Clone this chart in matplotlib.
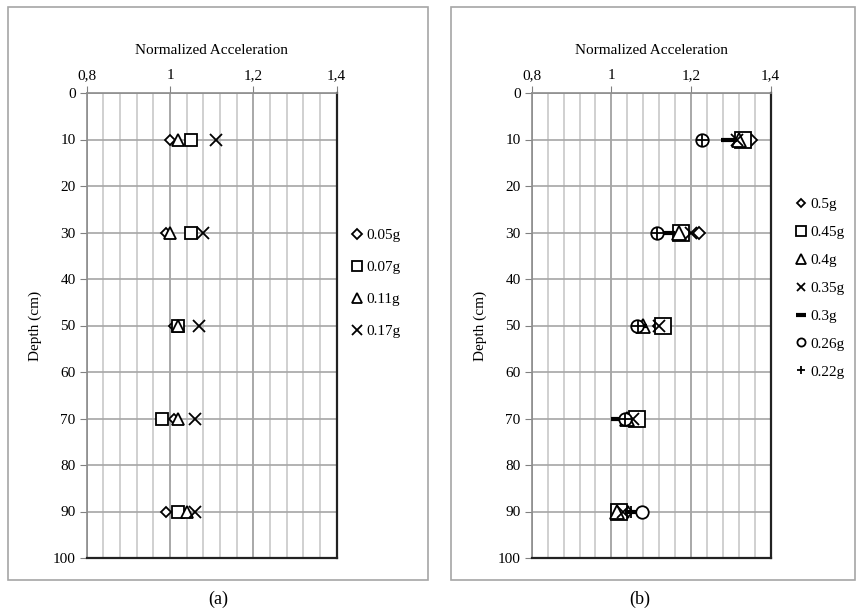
import matplotlib
matplotlib.use('Agg')
from matplotlib import pyplot as plt
from matplotlib.patches import Rectangle
from matplotlib.ticker import MultipleLocator

plt.rcParams['font.family'] = ['Liberation Serif', 'DejaVu Serif']

depth = [10, 30, 50, 70, 90]

# panel (a)
labels_a = ['0.05g', '0.07g', '0.11g', '0.17g']
acc_005 = [1.00, 0.99, 1.01, 1.01, 0.99]
acc_007 = [1.05, 1.05, 1.02, 0.98, 1.02]
acc_011 = [1.02, 1.00, 1.02, 1.02, 1.04]
acc_017 = [1.11, 1.08, 1.07, 1.06, 1.06]

# panel (b)
labels_b = ['0.5g', '0.45g', '0.4g', '0.35g', '0.3g', '0.26g', '0.22g']
acc_050 = [1.35, 1.22, 1.12, 1.06, 1.04]
acc_045 = [1.33, 1.175, 1.13, 1.065, 1.02]
acc_040 = [1.32, 1.17, 1.08, 1.04, 1.015]
acc_035 = [1.315, 1.20, 1.12, 1.055, 1.03]
acc_030 = [1.295, 1.14, 1.07, 1.02, 1.055]
acc_026 = [1.228, 1.115, 1.065, 1.033, 1.078]
acc_022 = [1.228, 1.115, 1.068, 1.035, 1.05]

x_ticks = [0.8, 1.0, 1.2, 1.4]
x_ticklabels = ['0,8', '1', '1,2', '1,4']
y_ticks = list(range(0, 101, 10))

W, H = 861, 613
fig = plt.figure(figsize=(W / 100, H / 100), dpi=100)

# panel frames
for x0, x1 in [(8, 428), (451, 855)]:
    fig.patches.append(Rectangle((x0 / W, (H - 580) / H), (x1 - x0) / W, 573 / H,
                                 transform=fig.transFigure, fill=False,
                                 edgecolor='#a6a6a6', linewidth=1.2))


def setup(ax):
    ax.set_xlim(0.8, 1.4)
    ax.set_ylim(100, 0)
    ax.xaxis.tick_top()
    ax.set_xticks(x_ticks)
    ax.set_xticklabels(x_ticklabels)
    ax.xaxis.set_minor_locator(MultipleLocator(0.04))
    ax.set_yticks(y_ticks)
    ax.tick_params(axis='both', which='major', labelsize=11, length=5,
                   color='#808080', direction='out', pad=3)
    ax.tick_params(axis='x', which='minor', length=0)
    ax.grid(which='minor', axis='x', color='#c8c8c8', linewidth=1.2)
    ax.grid(which='major', axis='x', color='#999999', linewidth=1.2)
    ax.grid(which='major', axis='y', color='#a6a6a6', linewidth=1.2)
    ax.set_axisbelow(True)
    for s in ['left', 'top']:
        ax.spines[s].set_color('#8c8c8c')
        ax.spines[s].set_linewidth(1.2)
    for s in ['right', 'bottom']:
        ax.spines[s].set_color('#222222')
        ax.spines[s].set_linewidth(1.6)
    ax.set_title('Normalized Acceleration', fontsize=11, pad=28)
    ax.set_ylabel('Depth (cm)', fontsize=11, labelpad=8)


kw = dict(linestyle='none', markerfacecolor='white', markeredgecolor='black',
          color='black', markeredgewidth=1.3)

# (a)
ax1 = fig.add_axes([86.7 / W, 55 / H, 250 / W, 465 / H])
setup(ax1)
h1 = []
h1 += ax1.plot(acc_005, depth, marker='D', markersize=5.5, label=labels_a[0], **kw)
h1 += ax1.plot(acc_007, depth, marker='s', markersize=8, label=labels_a[1], **kw)
h1 += ax1.plot(acc_011, depth, marker='^', markersize=8, label=labels_a[2], **kw)
h1 += ax1.plot(acc_017, depth, marker='x', markersize=8, label=labels_a[3], **kw)
leg1 = fig.legend(handles=h1, loc='upper left', bbox_to_anchor=(345 / W, 1 - 221 / H),
                  frameon=False, fontsize=11, handlelength=0.6, handletextpad=0.3,
                  labelspacing=1.2, borderpad=0, markerscale=0.85)

# (b)
ax2 = fig.add_axes([531.7 / W, 55 / H, 239 / W, 465 / H])
setup(ax2)
h2 = []
h2 += ax2.plot(acc_050, depth, marker='D', markersize=6.5, label=labels_b[0], **kw)
h2 += ax2.plot(acc_045, depth, marker='s', markersize=11.5, label=labels_b[1], **kw)
h2 += ax2.plot(acc_040, depth, marker='^', markersize=10, label=labels_b[2], **kw)
h2 += ax2.plot(acc_035, depth, marker='x', markersize=8, label=labels_b[3], **kw)
h2 += ax2.plot(acc_030, depth, marker='_', markersize=11, label=labels_b[4],
               linestyle='none', color='black', markeredgewidth=3)
h2 += ax2.plot(acc_026, depth, marker='o', markersize=9, label=labels_b[5], **kw)
h2 += ax2.plot(acc_022, depth, marker='+', markersize=9, label=labels_b[6], **kw)
leg2 = fig.legend(handles=h2, loc='upper left', bbox_to_anchor=(789 / W, 1 - 190 / H),
                  frameon=False, fontsize=11, handlelength=0.6, handletextpad=0.3,
                  labelspacing=0.93, borderpad=0, markerscale=0.65)

fig.text(218 / W, 1 - 599 / H, '(a)', ha='center', va='center', fontsize=13)
fig.text(640 / W, 1 - 599 / H, '(b)', ha='center', va='center', fontsize=13)

plt.savefig('out.png', dpi=100)
